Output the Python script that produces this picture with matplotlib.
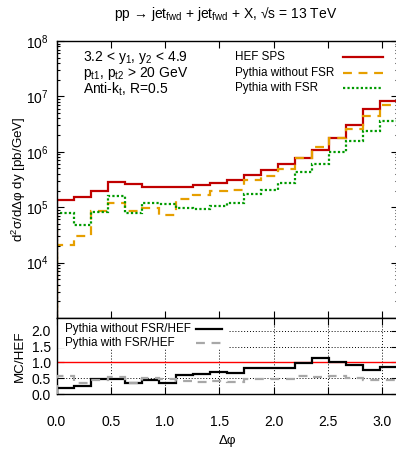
import numpy as np
import matplotlib
matplotlib.use("Agg")
import matplotlib.pyplot as plt
from matplotlib.patches import Rectangle
from matplotlib.ticker import LogLocator, NullFormatter, MultipleLocator, FixedLocator

plt.rcParams['font.family'] = ['Liberation Sans', 'DejaVu Sans']
plt.rcParams['mathtext.default'] = 'regular'
plt.rcParams['font.size'] = 10

# 20 bins in delta phi, 0..pi
edges = np.linspace(0, np.pi, 21)

hef_sps = [1.35e5, 1.5e5, 1.93e5, 2.9e5, 2.6e5, 2.34e5, 2.27e5, 2.3e5, 2.5e5, 2.76e5,
           3.16e5, 3.8e5, 4.6e5, 5.9e5, 7.6e5, 1.1e6, 1.75e6, 3.1e6, 5.9e6, 8.3e6]
py_nofsr = [2.1e4, 3.0e4, 8.7e4, 1.18e5, 8.4e4, 9.5e4, 7.2e4, 1.39e5, 1.64e5, 1.93e5,
            2.07e5, 3.1e5, 3.7e5, 4.9e5, 7.6e5, 1.24e6, 1.75e6, 2.6e6, 4.5e6, 7.1e6]
py_fsr = [7.8e4, 4.8e4, 8.2e4, 1.59e5, 7.8e4, 1.17e5, 1.12e5, 9.7e4, 9.1e4, 1.07e5,
          1.17e5, 1.75e5, 2.07e5, 2.7e5, 4.4e5, 6.1e5, 1.0e6, 1.58e6, 2.4e6, 3.6e6]

ratio_nofsr = [0.20, 0.26, 0.48, 0.46, 0.36, 0.45, 0.36, 0.61, 0.64, 0.71,
               0.66, 0.83, 0.81, 0.82, 0.99, 1.14, 1.01, 0.93, 0.77, 0.85]
ratio_fsr = [0.58, 0.36, 0.45, 0.54, 0.36, 0.50, 0.48, 0.42, 0.38, 0.40,
             0.38, 0.47, 0.46, 0.47, 0.57, 0.55, 0.56, 0.52, 0.43, 0.44]

c_red = "#c00000"
c_orange = "#e69f00"
c_green = "#009a00"

W, H = 396, 449
fig = plt.figure(figsize=(W / 100, H / 100), dpi=100)
x0, x1 = 56.5, 397.5
ax = fig.add_axes([x0 / W, (H - 318) / H, (x1 - x0) / W, 277 / H])
ax2 = fig.add_axes([x0 / W, (H - 394) / H, (x1 - x0) / W, 76 / H])

# main panel
ax.stairs(hef_sps, edges, baseline=1, color=c_red, lw=1.6)
ax.stairs(py_nofsr, edges, baseline=1, color=c_orange, lw=1.6, linestyle=(0, (4, 3)))
ax.stairs(py_fsr, edges, baseline=1, color=c_green, lw=1.6, linestyle=(0, (1, 1)))
ax.set_yscale("log")
ax.set_ylim(1e3, 1e8)
ax.set_xlim(0, np.pi)
ax.yaxis.set_major_locator(FixedLocator([1e4, 1e5, 1e6, 1e7, 1e8]))
ax.yaxis.set_minor_locator(LogLocator(base=10, subs=np.arange(2, 10), numticks=20))
ax.yaxis.set_minor_formatter(NullFormatter())
ax.xaxis.set_major_locator(MultipleLocator(0.5))
ax.tick_params(which="both", direction="in", top=True, right=True, width=0.8)
ax.tick_params(which="major", length=5)
ax.tick_params(which="minor", length=2.5)
ax.tick_params(axis="x", labelbottom=False)
ax.tick_params(axis="y", labelsize=10, pad=6)
ax.set_ylabel("d$^2$σ/dΔφ dy [pb/GeV]", fontsize=9.6)
ax.yaxis.set_label_coords(-0.085, 0.5)

# text block
for i, t in enumerate(["3.2 < y$_1$, y$_2$ < 4.9", "p$_{t1}$, p$_{t2}$ > 20 GeV", "Anti-k$_t$, R=0.5"]):
    ax.text(0.078, 0.942 - i * 0.058, t, transform=ax.transAxes, va="center", fontsize=10)

# legend, text left and sample right
leg = [("HEF SPS", c_red, "-"), ("Pythia without FSR", c_orange, (0, (4, 3))),
       ("Pythia with FSR", c_green, (0, (1, 1)))]
for i, (lab, c, ls) in enumerate(leg):
    yy = 0.942 - i * 0.056
    ax.text(0.523, yy, lab, transform=ax.transAxes, va="center", fontsize=8.4)
    ax.plot([0.84, 0.957], [yy, yy], transform=ax.transAxes, color=c, lw=1.6, linestyle=ls)

# ratio panel
ax2.set_xlim(0, np.pi)
ax2.set_ylim(0, 2.4)
ax2.grid(True, color="black", linestyle=(0, (1, 2)), lw=0.7, zorder=0)
ax2.set_axisbelow(True)
ax2.add_patch(Rectangle((0, 0.6), 0.503, 0.4, transform=ax2.transAxes, facecolor="white",
                        edgecolor="none", zorder=1.5))
ax2.axhline(1.0, color="#ff0000", lw=1.0, zorder=2)
ax2.stairs(ratio_nofsr, edges, color="black", lw=1.6, zorder=3)
ax2.stairs(ratio_fsr, edges, color="#a8a8a8", lw=1.6, linestyle=(0, (4, 3)), zorder=3)
ax2.xaxis.set_major_locator(MultipleLocator(0.5))
ax2.yaxis.set_major_locator(MultipleLocator(0.5))
ax2.xaxis.set_major_formatter(plt.FuncFormatter(lambda v, p: f"{v:.1f}"))
ax2.yaxis.set_major_formatter(plt.FuncFormatter(lambda v, p: f"{v:.1f}"))
ax2.tick_params(which="both", direction="in", top=True, right=True, width=0.8, length=5)
ax2.tick_params(axis="x", labelsize=10, pad=15)
ax2.tick_params(axis="y", labelsize=10, pad=4)
ax2.set_ylabel("MC/HEF", fontsize=9.6)
ax2.yaxis.set_label_coords(-0.09, 0.5)
ax2.set_xlabel("Δφ", fontsize=9.6)
ax2.xaxis.set_label_coords(0.5, -0.54)

rleg = [("Pythia without FSR/HEF", "black", "-"), ("Pythia with FSR/HEF", "#a8a8a8", (0, (4, 3)))]
for i, (lab, c, ls) in enumerate(rleg):
    yy = 0.85 - i * 0.18
    ax2.text(0.025, yy, lab, transform=ax2.transAxes, va="center", fontsize=8.4, zorder=4)
    ax2.plot([0.409, 0.486], [yy, yy], transform=ax2.transAxes, color=c, lw=1.6, linestyle=ls, zorder=4)

for a in (ax, ax2):
    for s in a.spines.values():
        s.set_linewidth(1.0)

fig.text(226 / W, 1 - 14 / H, "pp → jet$_{fwd}$ + jet$_{fwd}$ + X, √s = 13 TeV",
         ha="center", va="center", fontsize=10)

fig.savefig("out.png", dpi=100)
